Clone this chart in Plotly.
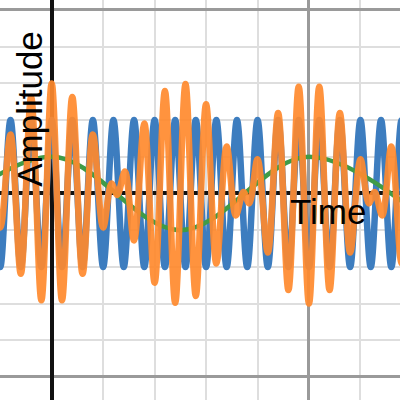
import plotly.graph_objects as go

# Extrema of the fast carrier (blue)
blue_t = [-0.28, -0.24, -0.20, -0.16, -0.12, -0.08, -0.04, 0.00, 0.04, 0.08,
          0.12, 0.16, 0.20, 0.24, 0.28, 0.32, 0.36, 0.40, 0.44, 0.48,
          0.52, 0.56, 0.60, 0.64, 0.68, 0.72, 0.76, 0.80, 0.84, 0.88,
          0.92, 0.96, 1.00, 1.04, 1.08, 1.12, 1.16, 1.20, 1.24, 1.28,
          1.32, 1.36, 1.40]
blue_y = [-2, 2, -2, 2, -2, 2, -2, 2, -2, 2,
          -2, 2, -2, 2, -2, 2, -2, 2, -2, 2,
          -2, 2, -2, 2, -2, 2, -2, 2, -2, 2,
          -2, 2, -2, 2, -2, 2, -2, 2, -2, 2,
          -2, 2, -2]

# Slow wave (green) extrema
green_t = [-0.5, 0.0, 0.5, 1.0, 1.5]
green_y = [-1, 1, -1, 1, -1]

# Modulated signal (orange) extrema
orange_t = [-0.32, -0.2845, -0.255, -0.2322, -0.20, -0.16, -0.12, -0.08, -0.04, 0.00,
            0.04, 0.08, 0.12, 0.16, 0.20, 0.2322, 0.255, 0.2845, 0.32, 0.36,
            0.40, 0.44, 0.48, 0.52, 0.56, 0.60, 0.64, 0.68, 0.7155, 0.745,
            0.7678, 0.80, 0.84, 0.88, 0.92, 0.96, 1.00, 1.04, 1.08, 1.12,
            1.16, 1.20, 1.2322, 1.255, 1.2845, 1.32, 1.36, 1.40]
orange_y = [-1.28, 0.60, -0.04, 0.27, -0.93, 1.61, -2.19, 2.63, -2.91, 3.00,
            -2.91, 2.63, -2.19, 1.61, -0.93, 0.27, -0.04, 0.60, -1.28, 1.91,
            -2.43, 2.79, -2.98, 2.98, -2.79, 2.43, -1.91, 1.28, -0.60, 0.04,
            -0.27, 0.93, -1.61, 2.19, -2.63, 2.91, -3.00, 2.91, -2.63, 2.19,
            -1.61, 0.93, -0.27, 0.04, -0.60, 1.28, -1.91, 2.43]

x_title = "Time"
y_title = "Amplitude"

fig = go.Figure()
fig.add_trace(go.Scatter(x=blue_t, y=blue_y, mode="lines",
                         line=dict(color="#3d7dbf", width=6.5, shape="spline", smoothing=1),
                         hoverinfo="skip"))
fig.add_trace(go.Scatter(x=green_t, y=green_y, mode="lines",
                         line=dict(color="#3f9b48", width=4.5, shape="spline", smoothing=1),
                         hoverinfo="skip"))
fig.add_trace(go.Scatter(x=orange_t, y=orange_y, mode="lines", opacity=0.92,
                         line=dict(color="#ff8a2e", width=6.5, shape="spline", smoothing=1),
                         hoverinfo="skip"))

fig.add_annotation(text=x_title, xref="paper", yref="paper", x=0.72, y=0.472,
                   xanchor="left", yanchor="middle", showarrow=False,
                   font=dict(family="Liberation Sans, Arial", size=35, color="#000"))
fig.add_annotation(text=y_title, xref="paper", yref="paper", x=0.075, y=0.728,
                   xanchor="center", yanchor="middle", showarrow=False, textangle=-90,
                   font=dict(family="Liberation Sans, Arial", size=35, color="#000"))

fig.update_layout(
    width=400, height=400, margin=dict(l=0, r=0, t=0, b=0),
    paper_bgcolor="white", plot_bgcolor="white", showlegend=False,
    xaxis=dict(range=[-0.2009, 1.3537], tick0=0, dtick=1, showticklabels=False, ticks="",
               showgrid=True, gridcolor="#9a9a9a", gridwidth=2.5,
               zeroline=True, zerolinecolor="#111111", zerolinewidth=3.5,
               showline=False,
               minor=dict(tick0=0, dtick=0.2, showgrid=True, gridcolor="#dedede", gridwidth=2)),
    yaxis=dict(range=[-5.627, 5.272], tick0=0, dtick=5, showticklabels=False, ticks="",
               showgrid=True, gridcolor="#9a9a9a", gridwidth=2.5,
               zeroline=True, zerolinecolor="#111111", zerolinewidth=3.5,
               showline=False,
               minor=dict(tick0=0, dtick=1, showgrid=True, gridcolor="#dedede", gridwidth=2)),
)

fig.write_html("out.html", config={"displayModeBar": False},
               post_script="document.body.style.margin='0';document.body.style.overflow='hidden';")
